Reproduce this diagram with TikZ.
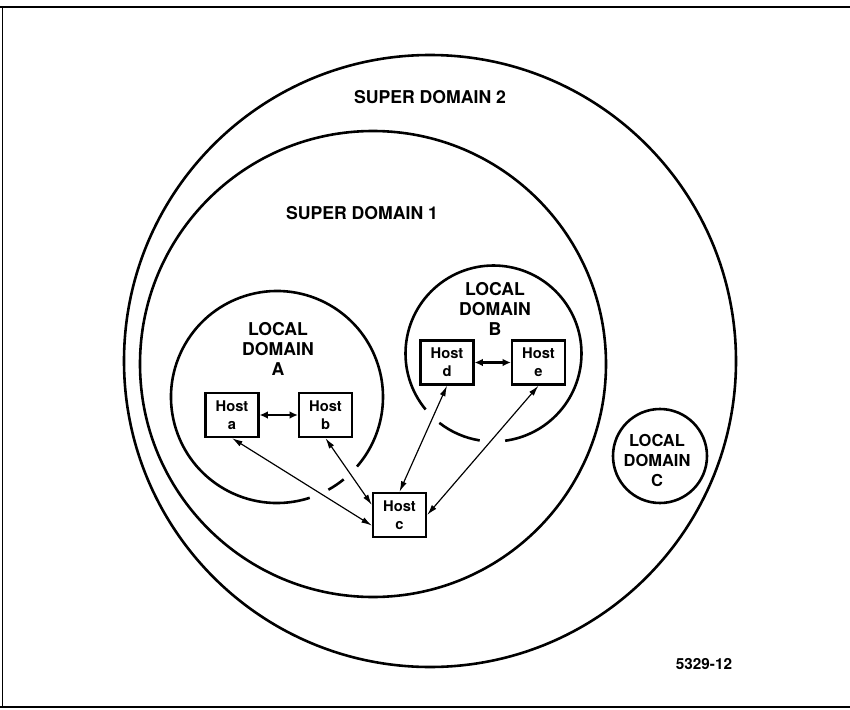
\documentclass[tikz,border=0pt]{standalone}
\usepackage{fontspec}
\setmainfont{TeX Gyre Heros}
\usetikzlibrary{arrows.meta,calc}

\begin{document}
\begin{tikzpicture}[x=0.85pt,y=-0.85pt,every node/.style={font=\bfseries},
  region/.style={line width=2.2pt},
  host/.style={draw,line width=2pt,minimum width=45pt,minimum height=37.4pt,inner sep=1pt,align=center,font=\bfseries\fontsize{12.5}{15.3}\selectfont},
  caption/.style={align=center,font=\bfseries\fontsize{15}{17}\selectfont},
  arr/.style={{Latex[length=9pt,width=5pt]}-{Latex[length=9pt,width=5pt]},line width=1pt},
  arrbig/.style={{Latex[length=7pt,width=6.5pt]}-{Latex[length=7pt,width=6.5pt]},line width=2.2pt}]
\useasboundingbox (0,0) rectangle (850,710);
% frame
\draw[line width=1.6pt] (0,7) -- (850,7);
\draw[line width=0.8pt] (2,7) -- (2,707);
\draw[line width=2pt] (0,707) -- (850,707);
% domains
\draw[region] (430,361) circle[radius=306];
\draw[region] (373,364) circle[radius=233];
\draw[region] (660,456) circle[radius=47];
\coordinate (ca) at (277,397);
\coordinate (cb) at (493.5,353.5);
\draw[region] ($(ca)+(72:106)$) arc[start angle=72,end angle=401,radius=106];
\draw[region] ($(ca)+(51:106)$) arc[start angle=51,end angle=61,radius=106];
\draw[region] ($(cb)+(140.5:88)$) arc[start angle=140.5,end angle=442.4,radius=88];
\draw[region] ($(cb)+(99:88)$) arc[start angle=99,end angle=128,radius=88];
% labels
\node[caption] (sd2) at (430,97) {SUPER DOMAIN 2};
\node[caption] (sd1) at (362,213) {SUPER DOMAIN 1};
\node[caption] (lda) at (278,349) {LOCAL\\DOMAIN\\A};
\node[caption] (ldb) at (495,309) {LOCAL\\DOMAIN\\B};
\node[caption,font=\bfseries\fontsize{14}{17}\selectfont] (ldc) at (657,460) {LOCAL\\DOMAIN\\C};
\node[font=\bfseries\fontsize{13}{15}\selectfont] (fig) at (704,664) {5329-12};
% hosts
\node[host] (ha) at (232,415) {Host\\a};
\node[host] (hb) at (325.5,415) {Host\\b};
\node[host] (hc) at (399.5,515) {Host\\c};
\node[host] (hd) at (447,362.5) {Host\\d};
\node[host] (he) at (538.5,362.5) {Host\\e};
\draw[arrbig] (ha) -- (hb);
\draw[arrbig] (hd) -- (he);
\draw[arr] (ha.south) -- (hc.201);
\draw[arr] (hb.south) -- (hc.160);
\draw[arr] (hd.south) -- (hc.north);
\draw[arr] (he.south) -- (hc.east);
\end{tikzpicture}
\end{document}
